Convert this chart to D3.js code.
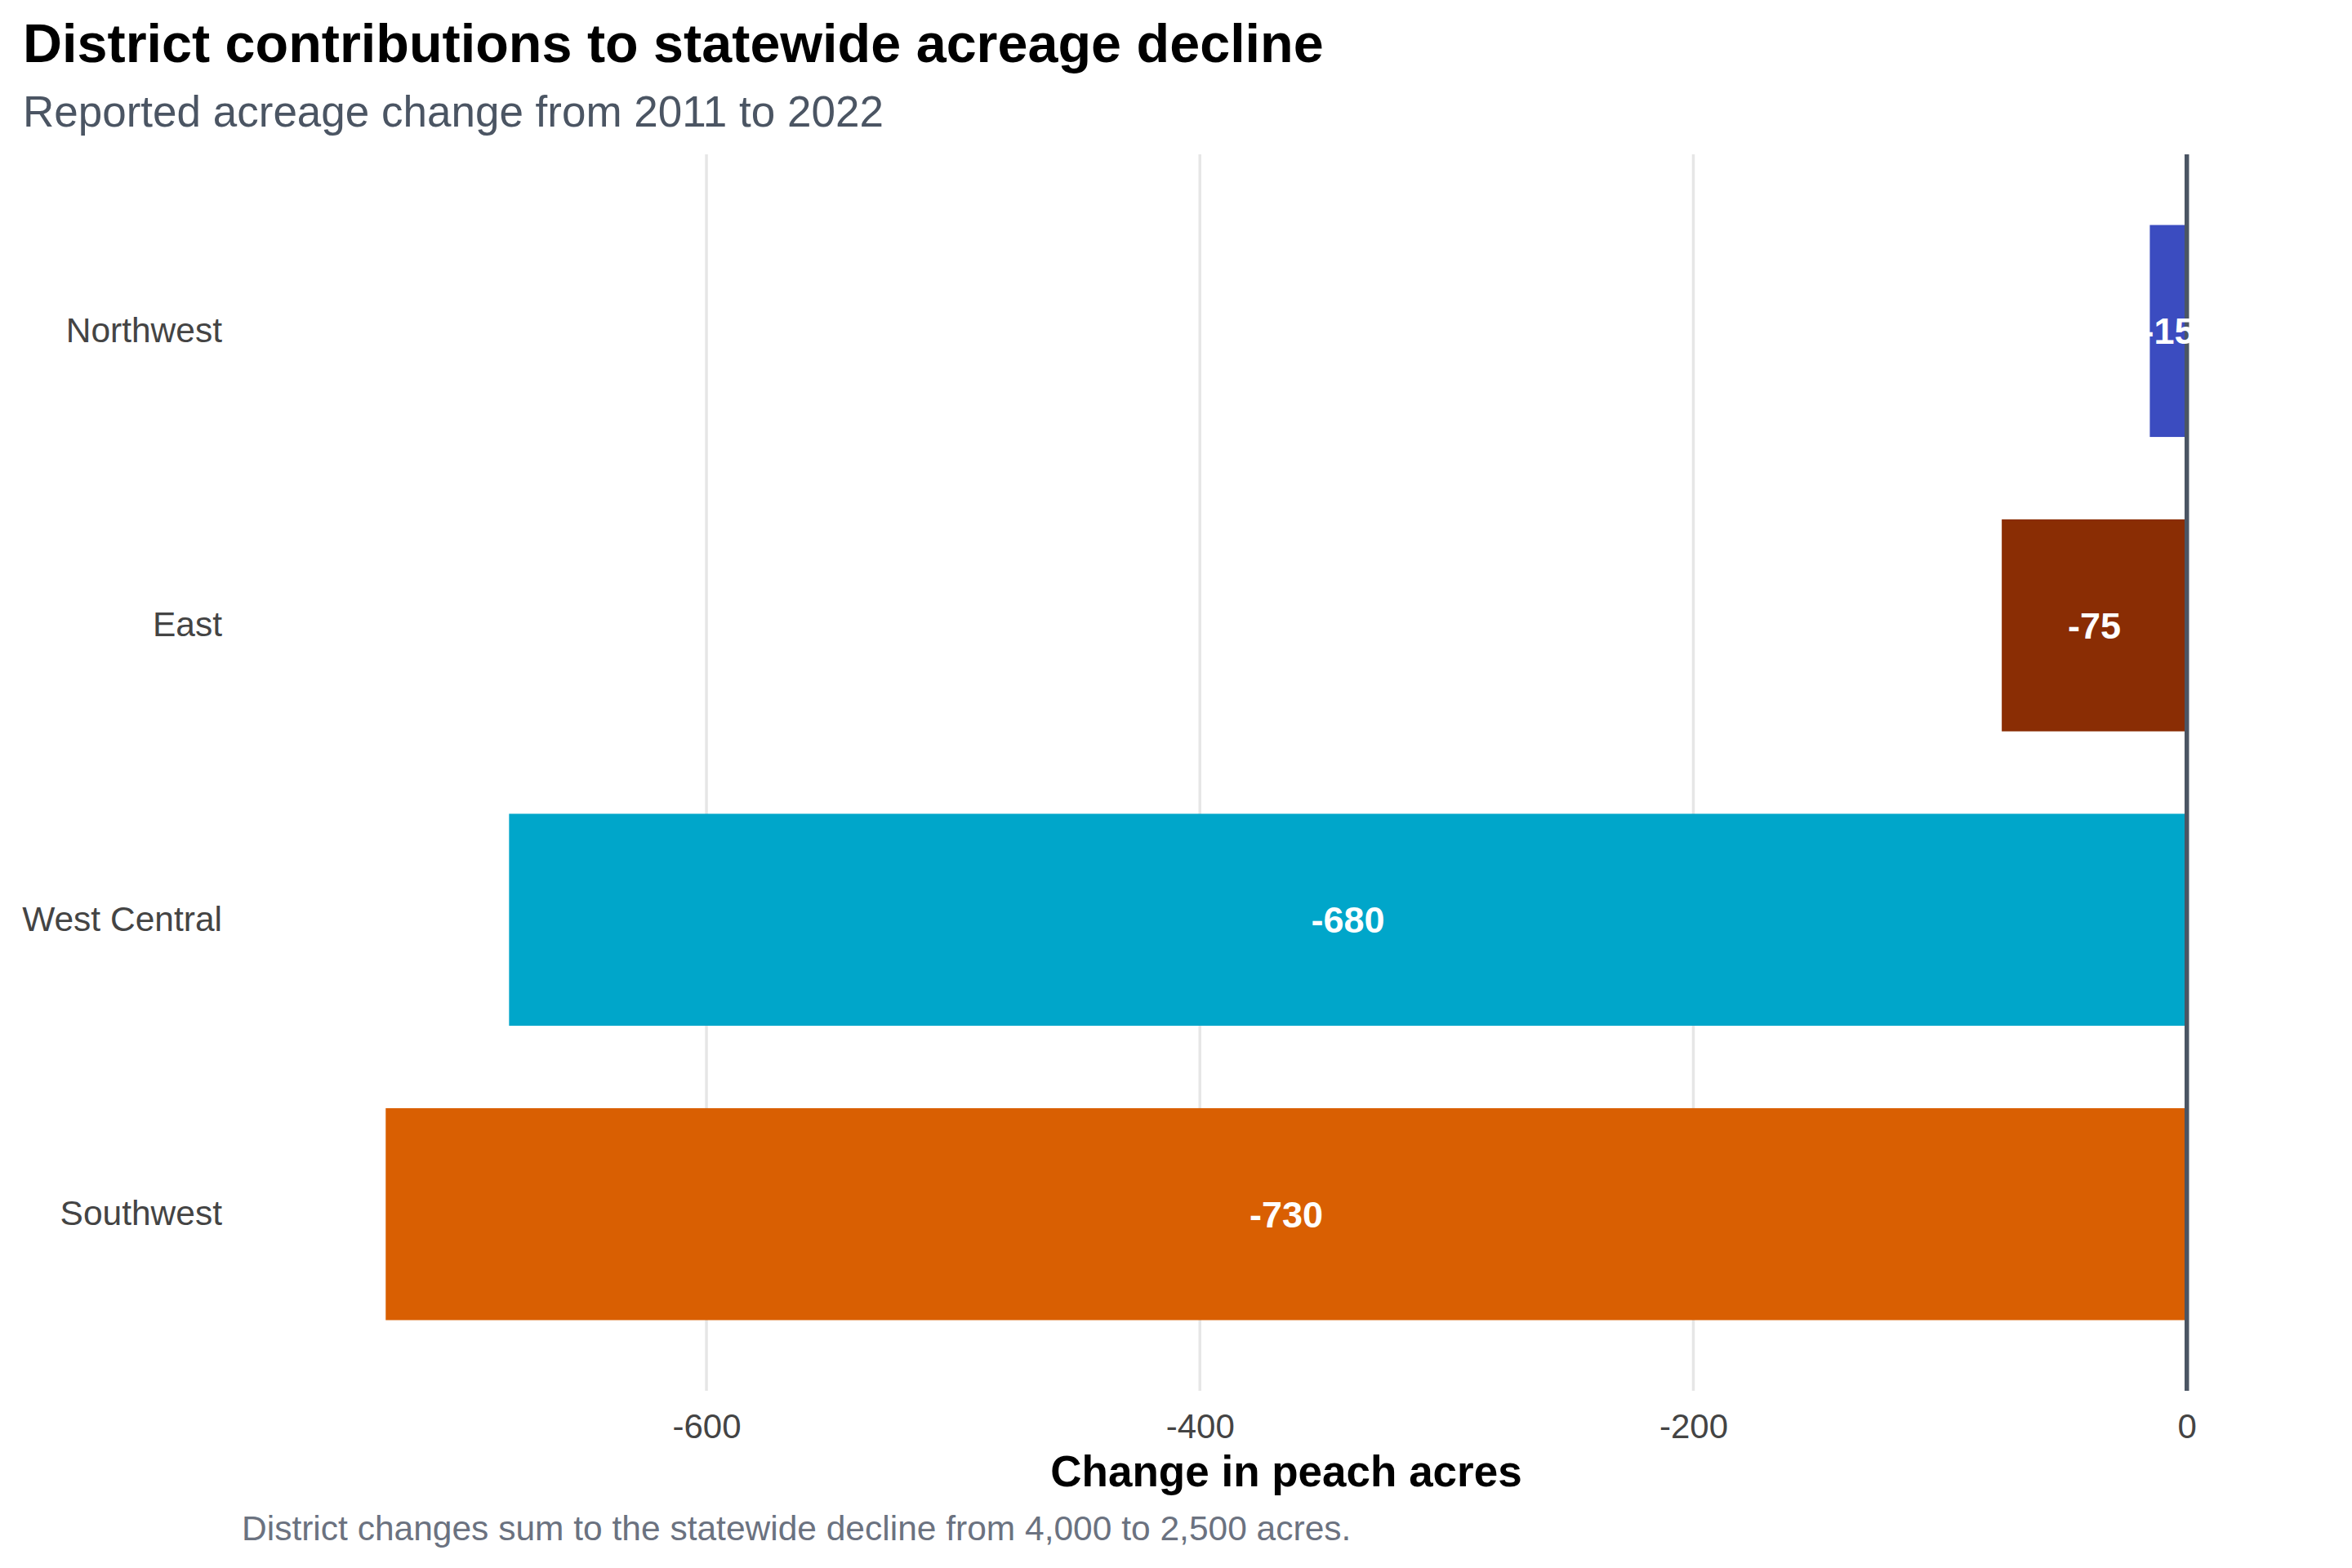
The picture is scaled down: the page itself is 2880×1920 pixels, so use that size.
<!DOCTYPE html>
<html>
<head>
<meta charset="utf-8">
<script src="https://cdn.jsdelivr.net/npm/d3@7"></script>
<style>
  body { margin: 0; background: #ffffff; }
  text { font-family: "Liberation Sans", Arial, sans-serif; }
</style>
</head>
<body>
<div id="chart"></div>
<script>
// --------------------------------------
//  Data
// --------------------------------------

const districts = ["Northwest", "East", "West Central", "Southwest"];
const changes = [-15, -75, -680, -730];
const barColors = ["#3b4cc0", "#8a2d04", "#00a6ca", "#d95f02"];
const xTicks = [-600, -400, -200, 0];

const data = districts.map((d, i) => ({district: d, change: changes[i], color: barColors[i]}));

// --------------------------------------
//  Margin and canvas
// --------------------------------------

const width = 2880;
const height = 1920;
const panel = {left: 362, right: 2788, top: 189, bottom: 1703};

const svg = d3.select("#chart")
  .append("svg")
    .attr("width", width)
    .attr("height", height)
    .attr("viewBox", `0 0 ${width} ${height}`);

// --------------------------------------
//  Scales
// --------------------------------------

const xMin = d3.min(changes);
const pad = (0 - xMin) * 0.05;

const x = d3.scaleLinear()
  .domain([xMin - pad, 0 + pad])
  .range([panel.left, panel.right]);

const y = d3.scaleBand()
  .domain(districts)
  .range([panel.top, panel.bottom])
  .paddingInner(0.28)
  .paddingOuter(0.24);

// --------------------------------------
//  Grid
// --------------------------------------

svg.append("g")
  .selectAll("line")
  .data(xTicks.filter(t => t !== 0))
  .join("line")
    .attr("x1", d => x(d))
    .attr("x2", d => x(d))
    .attr("y1", panel.top)
    .attr("y2", panel.bottom)
    .attr("stroke", "#e6e6e6")
    .attr("stroke-width", 3.5);

// --------------------------------------
//  Bars
// --------------------------------------

svg.append("g")
  .selectAll("rect")
  .data(data)
  .join("rect")
    .attr("x", d => x(d.change))
    .attr("y", d => y(d.district))
    .attr("width", d => x(0) - x(d.change))
    .attr("height", y.bandwidth())
    .attr("fill", d => d.color);

// zero line
svg.append("line")
  .attr("x1", x(0))
  .attr("x2", x(0))
  .attr("y1", panel.top)
  .attr("y2", panel.bottom)
  .attr("stroke", "#4b5563")
  .attr("stroke-width", 5.5);

// bar labels (hyphen minus, like the reference)
svg.append("g")
  .selectAll("text")
  .data(data)
  .join("text")
    .attr("x", d => (x(d.change) + x(0)) / 2)
    .attr("y", d => y(d.district) + y.bandwidth() / 2)
    .attr("dy", "0.36em")
    .attr("text-anchor", "middle")
    .attr("fill", "#ffffff")
    .attr("font-weight", "bold")
    .attr("font-size", 45)
    .text(d => String(d.change));

// --------------------------------------
//  Axes
// --------------------------------------

const xAxis = svg.append("g")
  .attr("transform", `translate(0, ${panel.bottom})`)
  .call(d3.axisBottom(x).tickValues(xTicks).tickSize(0).tickPadding(28).tickFormat(d => String(d)));
xAxis.select(".domain").remove();
xAxis.selectAll("text")
  .attr("font-size", 42)
  .attr("fill", "#444444")
  .style("font-family", "'Liberation Sans', Arial, sans-serif");

const yAxis = svg.append("g")
  .attr("transform", `translate(${panel.left}, 0)`)
  .call(d3.axisLeft(y).tickSize(0).tickPadding(90));
yAxis.select(".domain").remove();
yAxis.selectAll("text")
  .attr("font-size", 42.5)
  .attr("fill", "#444444")
  .style("font-family", "'Liberation Sans', Arial, sans-serif");

// --------------------------------------
//  Titles
// --------------------------------------

svg.append("text")
  .attr("x", 28)
  .attr("y", 76)
  .attr("font-size", 66.5)
  .attr("font-weight", "bold")
  .attr("fill", "#000000")
  .text("District contributions to statewide acreage decline");

svg.append("text")
  .attr("x", 28)
  .attr("y", 155)
  .attr("font-size", 53)
  .attr("fill", "#4b5563")
  .text("Reported acreage change from 2011 to 2022");

svg.append("text")
  .attr("x", (panel.left + panel.right) / 2)
  .attr("y", 1820)
  .attr("text-anchor", "middle")
  .attr("font-size", 53)
  .attr("font-weight", "bold")
  .attr("fill", "#000000")
  .text("Change in peach acres");

svg.append("text")
  .attr("x", 296)
  .attr("y", 1886)
  .attr("font-size", 42.5)
  .attr("fill", "#6b7280")
  .text("District changes sum to the statewide decline from 4,000 to 2,500 acres.");
</script>
</body>
</html>
